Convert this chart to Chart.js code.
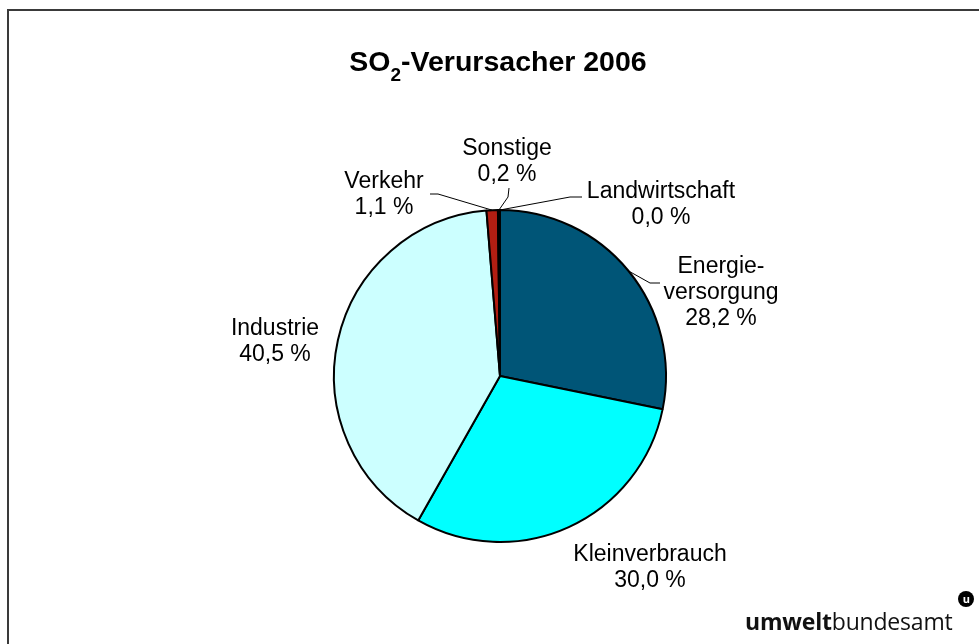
<!DOCTYPE html>
<html>
<head>
<meta charset="utf-8">
<script src="https://cdn.jsdelivr.net/npm/chart.js@4/dist/chart.umd.min.js"></script>
<style>
  html, body { margin: 0; padding: 0; background: #fff; }
  #wrap { position: relative; width: 979px; height: 644px; overflow: hidden; }
  #frame { position: absolute; left: 7px; top: 9px; width: 1000px; height: 700px; border: 2px solid #3a3a3a; box-sizing: border-box; }
  #title { position: absolute; left: 0; width: 996px; top: 47px; line-height: 28px; text-align: center; font-family: "Liberation Sans", Arial, sans-serif; font-weight: bold; font-size: 28.5px; color: #000; }
  #title sub { font-size: 19px; vertical-align: -10px; line-height: 0; }
  #logo { position: absolute; left: 745px; top: 605px; font-family: "Open Sans", sans-serif; font-size: 23px; color: #111; letter-spacing: -0.2px; }
  #logo b { font-weight: 700; }
  #logo .u { position: absolute; right: -22px; top: -14px; width: 16px; height: 16px; border-radius: 50%; background: #000; color: #fff; font-size: 11px; font-weight: 700; line-height: 15px; text-align: center; letter-spacing: 0; }
  canvas { position: absolute; left: 0; top: 0; }
</style>
</head>
<body>
<div id="wrap">
  <div id="frame"></div>
  <canvas id="c" width="979" height="644"></canvas>
  <div id="title">SO<sub>2</sub>-Verursacher 2006</div>
  <div id="logo"><b>umwelt</b>bundesamt<span class="u">u</span></div>
</div>
<script>
// ---- data ----
const categories = ["Energieversorgung", "Kleinverbrauch", "Industrie", "Verkehr", "Sonstige", "Landwirtschaft"];
const shares = [28.2, 30.0, 40.5, 1.1, 0.2, 0.0];
const labelLines = [
  ["Energie-", "versorgung"],
  ["Kleinverbrauch"],
  ["Industrie"],
  ["Verkehr"],
  ["Sonstige"],
  ["Landwirtschaft"]
];
const sliceColors = ["#005577", "#00FFFF", "#CCFFFF", "#B21E12", "#000000", "#339966"];

// label placement (relative to the pie centre, px) and leader lines
const labelPlacement = [
  { dx: 221, dy: -83, leader: [[160, -93], [150, -93]] },
  { dx: 150, dy: 192 },
  { dx: -225, dy: -34 },
  { dx: -116, dy: -181, leader: [[-70, -182], [-62, -182]] },
  { dx: 7, dy: -214, leader: [[9, -188], [8, -179]] },
  { dx: 161, dy: -171, leader: [[82, -179], [70, -179]] }
];

function fmt(v) { return v.toFixed(1).replace('.', ',') + ' %'; }

const labelPlugin = {
  id: 'pieLabels',
  afterDatasetsDraw(chart) {
    const ctx = chart.ctx;
    const meta = chart.getDatasetMeta(0);
    ctx.save();
    ctx.font = '23px "Liberation Sans", Arial, sans-serif';
    ctx.fillStyle = '#000';
    ctx.textAlign = 'center';
    ctx.textBaseline = 'middle';
    meta.data.forEach((arc, i) => {
      const p = labelPlacement[i];
      const cx = arc.x, cy = arc.y;
      const lines = labelLines[i].concat([fmt(shares[i])]);
      const lh = 26;
      const y0 = cy + p.dy - (lines.length - 1) * lh / 2;
      lines.forEach((t, k) => ctx.fillText(t, cx + p.dx, y0 + k * lh));
      if (p.leader) {
        const mid = (arc.startAngle + arc.endAngle) / 2;
        const ex = cx + Math.cos(mid) * arc.outerRadius;
        const ey = cy + Math.sin(mid) * arc.outerRadius;
        ctx.beginPath();
        ctx.strokeStyle = '#000';
        ctx.lineWidth = 1;
        ctx.moveTo(cx + p.leader[0][0], cy + p.leader[0][1]);
        ctx.lineTo(cx + p.leader[1][0], cy + p.leader[1][1]);
        ctx.lineTo(ex, ey);
        ctx.stroke();
      }
    });
    ctx.restore();
  }
};

new Chart(document.getElementById('c'), {
  type: 'pie',
  data: {
    labels: categories,
    datasets: [{
      data: shares,
      backgroundColor: sliceColors,
      borderColor: '#000',
      borderWidth: 2,
      borderAlign: 'center'
    }]
  },
  options: {
    responsive: false,
    animation: false,
    layout: { padding: { left: 333, right: 312, top: 209, bottom: 101 } },
    plugins: { legend: { display: false }, tooltip: { enabled: false }, title: { display: false } }
  },
  plugins: [labelPlugin]
});
</script>
</body>
</html>
